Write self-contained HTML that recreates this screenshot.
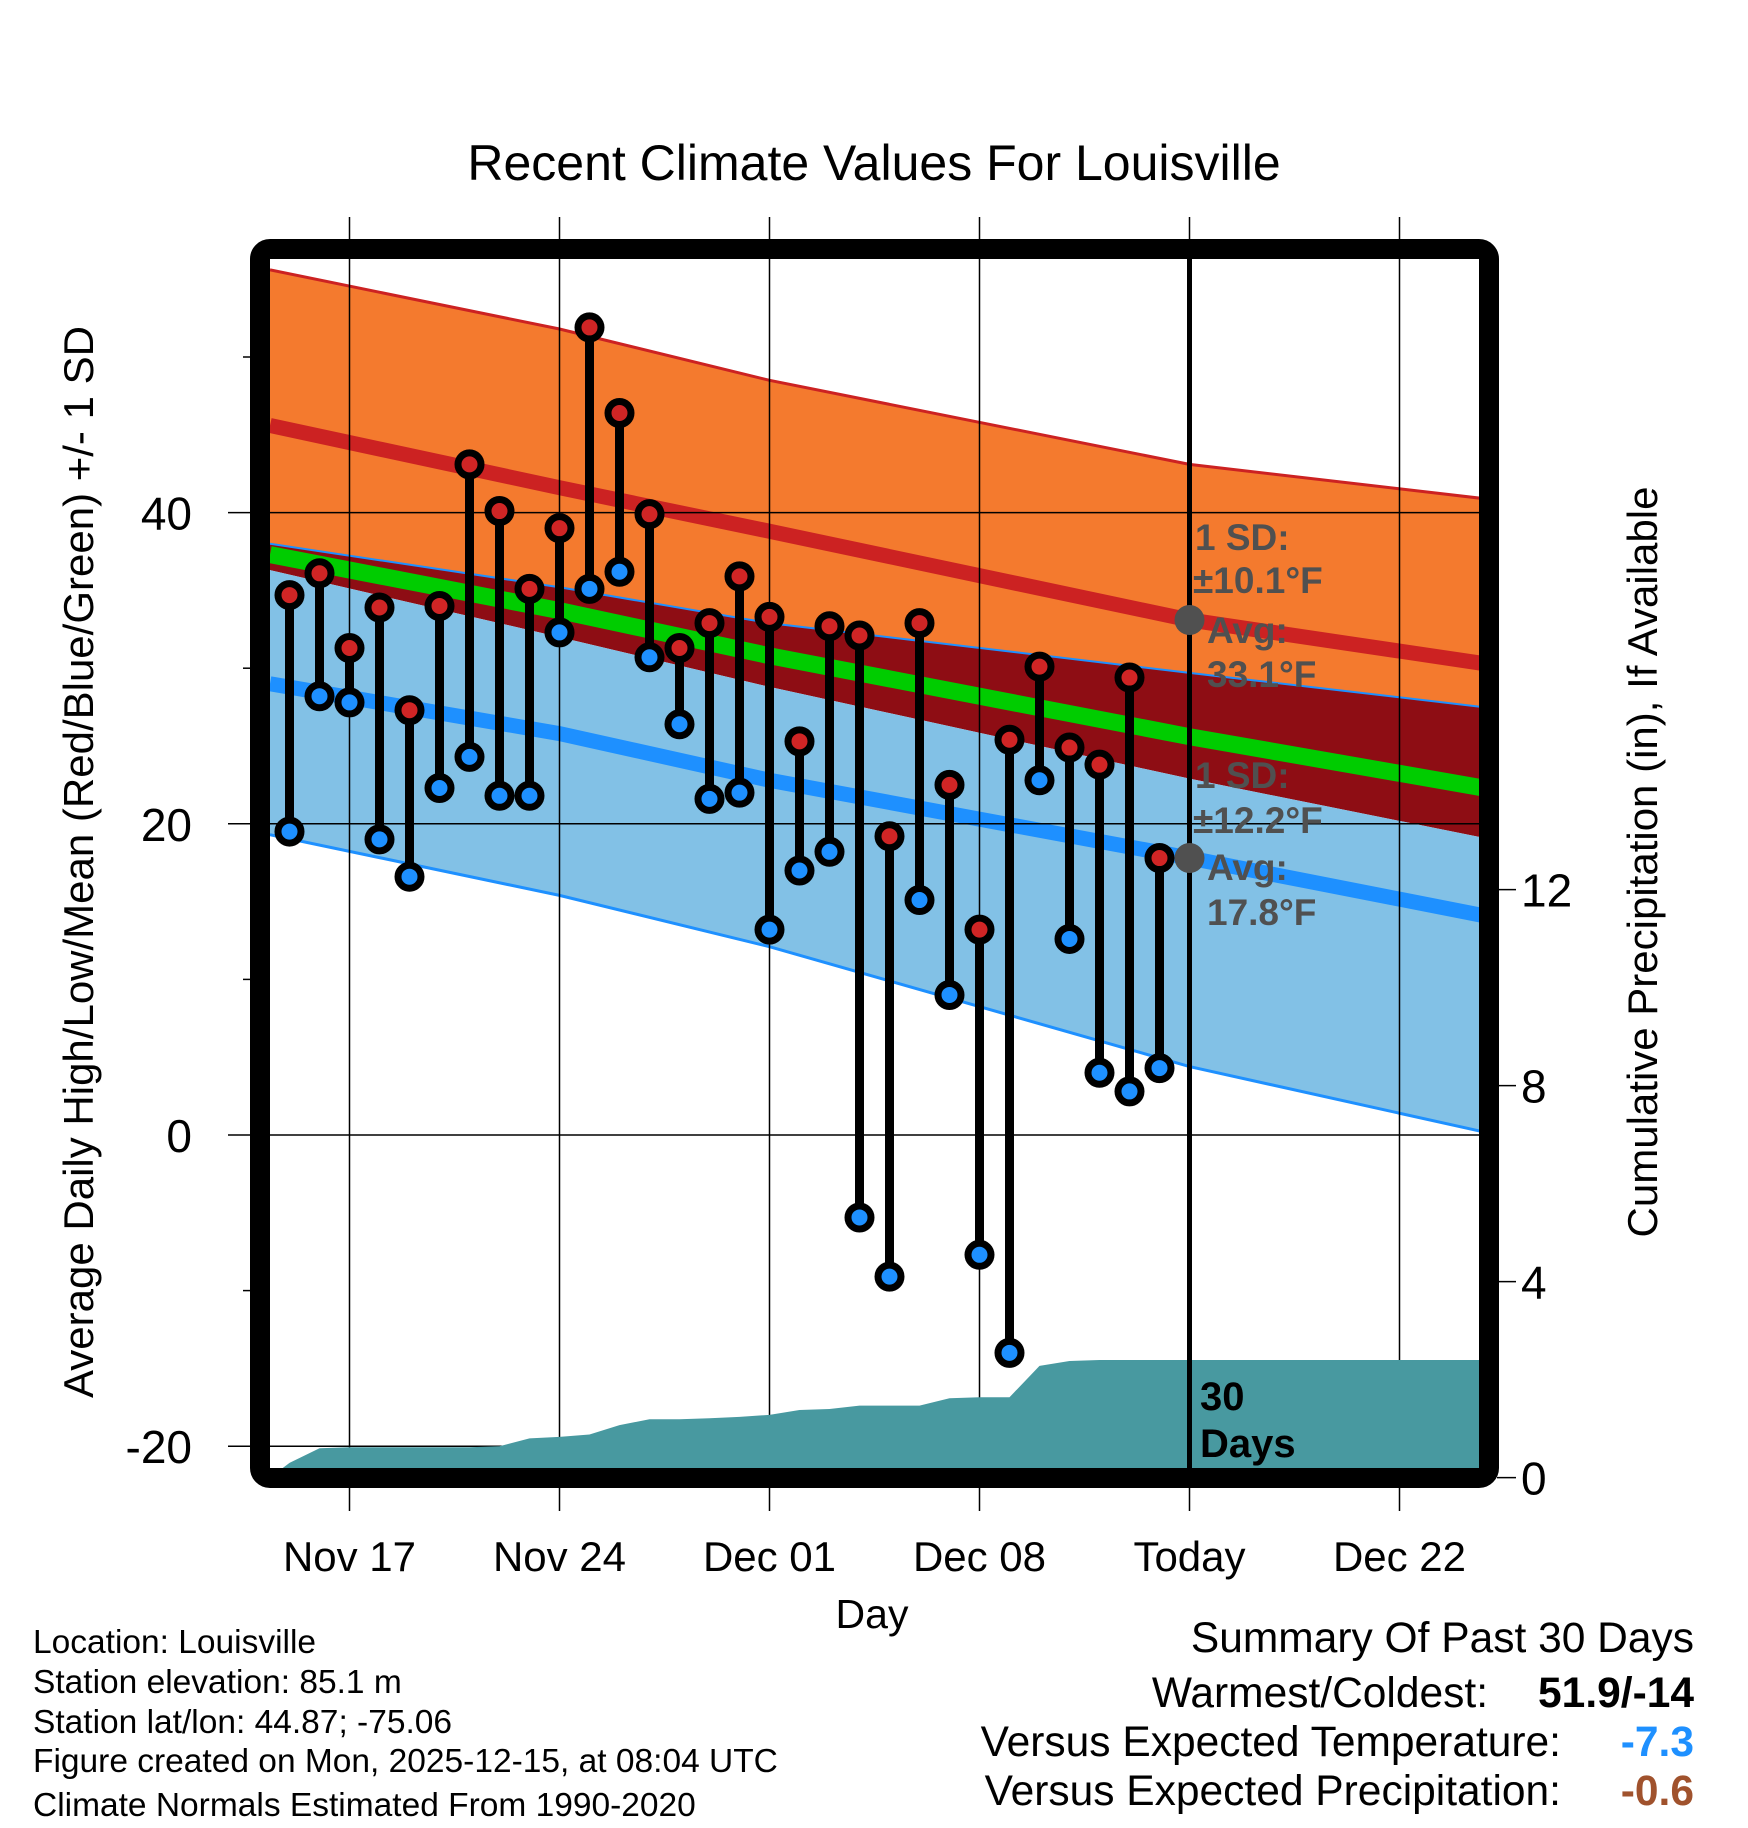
<!DOCTYPE html>
<html><head><meta charset="utf-8"><style>
html,body{margin:0;padding:0;background:#fff;}
svg{display:block;font-family:"Liberation Sans",Arial,sans-serif;}
</style></head><body>
<svg id="chart" width="1748" height="1828" viewBox="0 0 1748 1828" xmlns="http://www.w3.org/2000/svg">
<defs><clipPath id="plotclip"><rect x="270" y="259" width="1209" height="1209"/></clipPath></defs>
<g id="bands" clip-path="url(#plotclip)"></g>
<g id="grid"></g>
<g id="precip" clip-path="url(#plotclip)"></g>
<g id="today"></g>
<g id="marks"></g>
<rect x="260" y="249" width="1229" height="1229" rx="10" fill="none" stroke="#000" stroke-width="20"/>
<g id="axes"></g>
<text x="874" y="180" font-size="50" text-anchor="middle">Recent Climate Values For Louisville</text>
<text transform="translate(93,862) rotate(-90)" font-size="42" text-anchor="middle">Average Daily High/Low/Mean (Red/Blue/Green) +/- 1 SD</text>
<text transform="translate(1657,862) rotate(-90)" font-size="42" text-anchor="middle">Cumulative Precipitation (in), If Available</text>
<text x="872" y="1628" font-size="41" text-anchor="middle">Day</text>
<g font-size="37" font-weight="bold" fill="#505050">
<text x="1195" y="550">1 SD:</text><text x="1193" y="593">±10.1°F</text>
<text x="1207" y="643">Avg:</text><text x="1207" y="687">33.1°F</text>
<text x="1195" y="788">1 SD:</text><text x="1193" y="833">±12.2°F</text>
<text x="1207" y="880">Avg:</text><text x="1207" y="925">17.8°F</text>
</g>
<g font-size="40" font-weight="bold" fill="#000">
<text x="1200" y="1410">30</text><text x="1200" y="1457">Days</text>
</g>
<g font-size="33.5" fill="#000">
<text x="33" y="1653">Location: Louisville</text>
<text x="33" y="1693">Station elevation: 85.1 m</text>
<text x="33" y="1733">Station lat/lon: 44.87; -75.06</text>
<text x="33" y="1772">Figure created on Mon, 2025-12-15, at 08:04 UTC</text>
<text x="33" y="1816">Climate Normals Estimated From 1990-2020</text>
</g>
<g font-size="42.5" fill="#000" text-anchor="end">
<text x="1694" y="1652">Summary Of Past 30 Days</text>
<text x="1488" y="1707">Warmest/Coldest:</text>
<text x="1694" y="1707" font-weight="bold">51.9/-14</text>
<text x="1561" y="1756">Versus Expected Temperature:</text>
<text x="1694" y="1756" font-weight="bold" fill="#1e90ff">-7.3</text>
<text x="1561" y="1805">Versus Expected Precipitation:</text>
<text x="1694" y="1805" font-weight="bold" fill="#a0522d">-0.6</text>
</g>
</svg>
<script>
// day index: 0 = Nov 17
const highs=[34.7,36.1,31.3,33.9,27.3,34.0,43.1,40.1,35.1,39.0,51.9,46.4,39.9,31.3,32.9,35.9,33.3,25.3,32.7,32.1,19.2,32.9,22.5,13.2,25.4,30.1,24.9,23.8,29.4,17.8];
const lows=[19.5,28.2,27.8,19.0,16.6,22.3,24.3,21.8,21.8,32.3,35.1,36.2,30.7,26.4,21.6,22.0,13.2,17.0,18.2,-5.3,-9.1,15.1,9.0,-7.7,-14.0,22.8,12.6,4.0,2.8,4.3];
const firstDay=-2;
const precip=[0.3,0.6,0.62,0.62,0.62,0.62,0.62,0.64,0.8,0.83,0.88,1.07,1.19,1.19,1.21,1.24,1.28,1.38,1.4,1.47,1.47,1.47,1.62,1.64,1.64,2.28,2.38,2.4,2.4,2.4];
const normDays=[-2.65,7,14,28,37.8];
const hiTop=[55.6,51.8,48.5,43.1,40.9];
const hiMean=[45.6,41.6,38.8,33.1,30.3];
const hiBot=[38.0,35.2,32.9,29.7,27.5];
const meanT=[37.3,33.7,30.8,25.6,22.3];
const midBot=[36.3,32.0,28.8,22.9,19.1];
const loMean=[29.0,25.8,22.8,17.8,14.1];
const loBot=[19.3,15.4,12.1,4.4,0.2];
const xTicks=[0,7,14,21,28,35];
const xLabels=["Nov 17","Nov 24","Dec 01","Dec 08","Today","Dec 22"];
const yMajor=[40,20,0,-20];
const yMinor=[50,30,10,-10];
const pTicks=[0,4,8,12];
const todayDay=28;

const NS="http://www.w3.org/2000/svg";
const X=d=>349.5+30*d;
const Y=v=>1135-15.56*v;
const P=v=>1477.6-49*v;
function mk(tag,attrs,parent){const e=document.createElementNS(NS,tag);for(const k in attrs)e.setAttribute(k,attrs[k]);parent.appendChild(e);return e;}
const bands=document.getElementById('bands'),grid=document.getElementById('grid'),pr=document.getElementById('precip'),td=document.getElementById('today'),marks=document.getElementById('marks'),axes=document.getElementById('axes');
const pts=a=>normDays.map((d,i)=>X(d)+','+Y(a[i]));
const rev=a=>pts(a).reverse();
function area(top,bot,fill,name){const e=mk('polygon',{points:pts(top).concat(rev(bot)).join(' '),fill:fill},bands);

}
function line(a,col,w,name){const e=mk('polyline',{points:pts(a).join(' '),fill:'none',stroke:col,'stroke-width':w},bands);

}
area(hiTop,hiBot,'#f47a2e','high-sd-band');
area(hiBot,midBot,'#8e0d14','overlap-band');
area(midBot,loBot,'#82c1e6','low-sd-band');
line(hiTop,'#cc2222',3,'high-sd-top-line');
line(hiMean,'#cc2222',15,'high-mean-line');
line(hiBot,'#1e90ff',2,'high-sd-bottom-line');
line(meanT,'#00cc00',17,'mean-line');
line(loMean,'#1e90ff',15,'low-mean-line');
line(loBot,'#1e90ff',3,'low-sd-bottom-line');
xTicks.forEach((d,i)=>{const l=mk('line',{x1:X(d),x2:X(d),y1:217,y2:1511,stroke:'#000','stroke-width':1.5},grid);


const t=mk('text',{x:X(d),y:1571,'font-size':42,'text-anchor':'middle'},axes);t.textContent=xLabels[i];

});
yMajor.forEach(v=>{const l=mk('line',{x1:228,x2:1479,y1:Y(v),y2:Y(v),stroke:'#000','stroke-width':1.5},grid);


const t=mk('text',{x:192,y:Y(v)+17,'font-size':46,'text-anchor':'end'},axes);t.textContent=v;

});
yMinor.forEach(v=>{const l=mk('line',{x1:243,x2:252,y1:Y(v),y2:Y(v),stroke:'#000','stroke-width':1.5},axes);

});
pTicks.forEach(v=>{const l=mk('line',{x1:1497,x2:1516,y1:P(v),y2:P(v),stroke:'#000','stroke-width':1.5},axes);


const t=mk('text',{x:1521,y:P(v)+17,'font-size':46},axes);t.textContent=v;

});
let pp=[X(-2.65)+','+P(0)];
precip.forEach((v,i)=>pp.push(X(firstDay+i)+','+P(v)));
pp.push(X(37.8)+','+P(precip[precip.length-1]));pp.push(X(37.8)+','+P(-1));pp.push(X(-2.65)+','+P(-1));
const pg=mk('polygon',{points:pp.join(' '),fill:'#4899a0'},pr);


const tl=mk('line',{x1:X(todayDay),x2:X(todayDay),y1:259,y2:1468,stroke:'#000','stroke-width':5},td);


[hiMean,loMean].forEach(a=>{const c=mk('circle',{cx:X(todayDay),cy:Y(a[3]),r:15,fill:'#505050'},td);

});
highs.forEach((h,i)=>{const x=X(firstDay+i),lo=lows[i];
const s=mk('line',{x1:x,x2:x,y1:Y(h),y2:Y(lo),stroke:'#000','stroke-width':9},marks);


[[h,'#d02525','high-point'],[lo,'#1e90ff','low-point']].forEach(q=>{
const c=mk('circle',{cx:x,cy:Y(q[0]),r:11.5,fill:q[1],stroke:'#000','stroke-width':7},marks);

});});
</script>
</body></html>
